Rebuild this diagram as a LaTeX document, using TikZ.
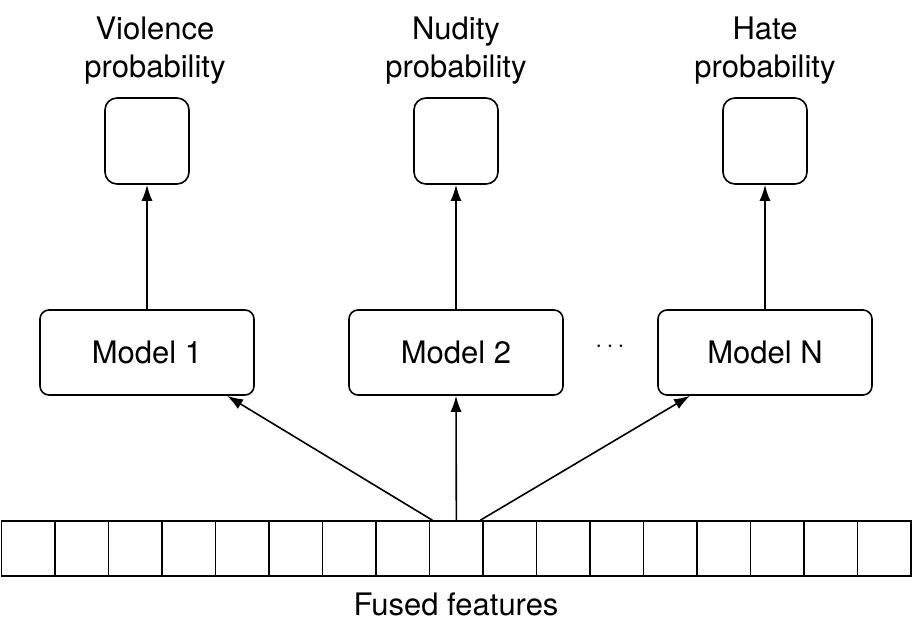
\documentclass[tikz,border=0pt]{standalone}
\usepackage{fontspec}
\setmainfont{TeX Gyre Heros}
\usetikzlibrary{arrows.meta,positioning}

\tikzset{
  model/.style={draw, rounded corners=9pt, minimum width=214pt, minimum height=85pt, line width=1.6pt},
  outbox/.style={draw, rounded corners=12pt, minimum width=84pt, minimum height=86pt, line width=1.6pt},
  cell/.style={draw, minimum width=53.5pt, minimum height=55pt, line width=1.6pt},
  label/.style={align=center, font=\fontsize{31}{38}\selectfont},
  link/.style={-{Latex[length=16pt,width=11pt]}, line width=1.6pt}
}

\begin{document}
\begin{tikzpicture}[x=1pt, y=-1pt, font=\fontsize{31}{38}\selectfont]
  \useasboundingbox (0,0) rectangle (913,636);

  % fused feature vector
  \foreach \i in {1,...,17}
    \node[cell] (c\i) at ({1.6+53.5*(\i-0.5)}, 548.5) {};
  \node (fused) at (456, 604) {Fused features};

  % models
  \node[model] (m1) at (147, 352.5) {Model 1};
  \node[model] (m2) at (456, 352.5) {Model 2};
  \node[model] (mN) at (765, 352.5) {Model N};
  \node (dots) at (610, 347) {$\cdots$};

  % outputs
  \node[outbox] (o1) at (147, 141) {};
  \node[outbox] (o2) at (456, 141) {};
  \node[outbox] (oN) at (765, 141) {};
  \node[label] (l1) at (155, 51) {Violence\\probability};
  \node[label] (l2) at (456, 51) {Nudity\\probability};
  \node[label] (lN) at (765, 51) {Hate\\probability};

  % connectors
  \draw[link] ([xshift=-24pt]c9.north) -- ([xshift=80pt]m1.south);
  \draw[link] (c9.north) -- (m2.south);
  \draw[link] ([xshift=24pt]c9.north) -- ([xshift=-75pt]mN.south);
  \draw[link] (m1) -- (o1);
  \draw[link] (m2) -- (o2);
  \draw[link] (mN) -- (oN);
\end{tikzpicture}
\end{document}
